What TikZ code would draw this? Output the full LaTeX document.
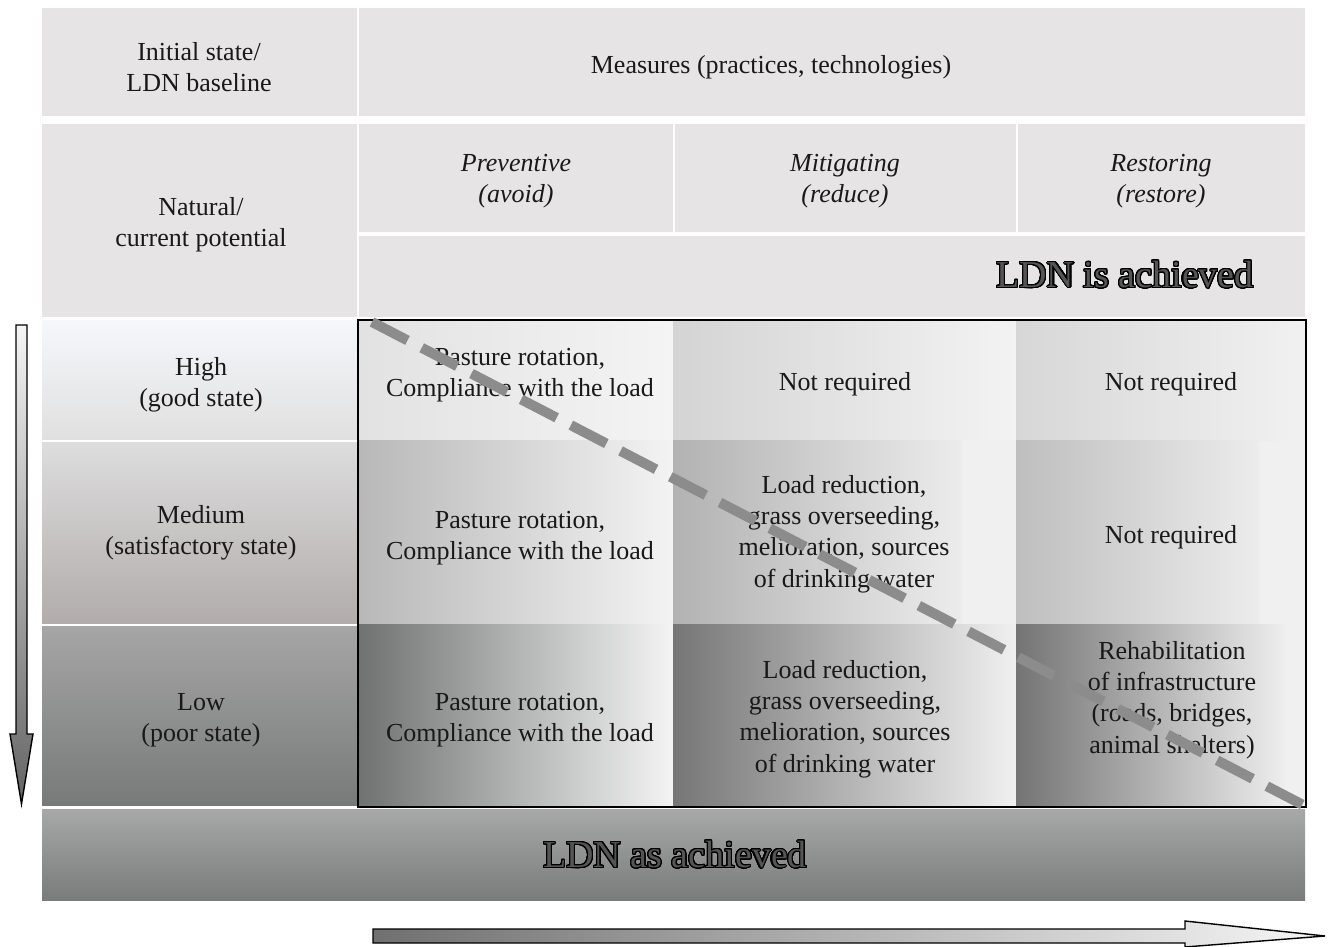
\documentclass[tikz,border=0pt]{standalone}
\usepackage{fontspec}
\setmainfont{Liberation Serif}
\usepackage{contour}
\contourlength{0.55pt}
\contournumber{32}
\definecolor{hdr}{RGB}{230,228,229}
\definecolor{dashgray}{RGB}{140,140,140}
\definecolor{ink}{RGB}{25,25,25}
\definecolor{bigink}{RGB}{85,85,85}
\begin{document}
\begin{tikzpicture}[x=0.5pt,y=0.5pt,
  txt/.style={font=\fontsize{13}{15.7}\selectfont, align=center, text=ink, inner sep=0pt, yshift=-1.5pt},
  hd/.style={font=\fontsize{13}{15.7}\selectfont\itshape, align=center, text=ink, inner sep=0pt, yshift=-1.5pt},
  big/.style={font=\fontsize{19}{22}\selectfont, text=bigink, inner sep=0pt},
  hbox/.style={fill=hdr},
  arrowshape/.style={draw=black, line width=0.7pt, line join=miter}
]
\fill[white] (0,0) rectangle (1328,-947);
\useasboundingbox (0,0) rectangle (1328,-947);

% header cells
\path[hbox] (42,-8) rectangle (357,-116);
\path[hbox] (359,-8) rectangle (1305,-116);
\path[hbox] (42,-124) rectangle (357,-317);
\path[hbox] (359,-124) rectangle (673,-232);
\path[hbox] (675,-124) rectangle (1016,-232);
\path[hbox] (1018,-124) rectangle (1305,-232);
\path[hbox] (359,-236) rectangle (1305,-317);

% left column state cells
\shade[top color={rgb,255:red,246;green,247;blue,251}, bottom color={rgb,255:red,224;green,224;blue,224}] (42,-320) rectangle (357,-439);
\shade[top color={rgb,255:red,221;green,221;blue,221}, bottom color={rgb,255:red,178;green,172;blue,172}] (42,-442) rectangle (357,-623);
\shade[top color={rgb,255:red,166;green,166;blue,166}, bottom color={rgb,255:red,120;green,121;blue,121}] (42,-626) rectangle (357,-805);

% grid base
\fill[black!6] (358,-320) rectangle (1305,-806);
% row 1
\shade[left color={rgb,255:red,226;green,226;blue,226}, right color={rgb,255:red,244;green,244;blue,244}] (358,-320) rectangle (673,-440);
\shade[left color={rgb,255:red,212;green,212;blue,212}, right color={rgb,255:red,243;green,243;blue,243}] (673,-320) rectangle (1016,-440);
\shade[left color={rgb,255:red,215;green,215;blue,215}, right color={rgb,255:red,241;green,241;blue,241}] (1016,-320) rectangle (1305,-440);
% row 2
\shade[left color={rgb,255:red,184;green,184;blue,184}, right color={rgb,255:red,243;green,243;blue,243}] (358,-440) rectangle (673,-624);
\fill[black!6] (673,-440) rectangle (1016,-624);
\shade[left color={rgb,255:red,178;green,178;blue,178}, right color={rgb,255:red,236;green,236;blue,236}] (673,-440) rectangle (962,-624);
\shade[left color={rgb,255:red,190;green,190;blue,190}, right color={rgb,255:red,236;green,236;blue,236}] (1016,-440) rectangle (1259,-624);
% row 3
\shade[left color={rgb,255:red,112;green,114;blue,114}, middle color={rgb,255:red,192;green,192;blue,192}, right color={rgb,255:red,244;green,244;blue,244}] (358,-624) rectangle (673,-806);
\shade[left color={rgb,255:red,118;green,118;blue,118}, middle color={rgb,255:red,190;green,190;blue,190}, right color={rgb,255:red,240;green,240;blue,240}] (673,-624) rectangle (1016,-806);
\shade[left color={rgb,255:red,116;green,116;blue,116}, middle color={rgb,255:red,185;green,185;blue,185}, right color={rgb,255:red,238;green,238;blue,238}] (1016,-624) rectangle (1285,-806);

% grid border
\draw[black, line width=1pt] (358,-320) rectangle (1306,-807);

% bottom bar
\shade[top color={rgb,255:red,168;green,168;blue,168}, bottom color={rgb,255:red,122;green,123;blue,123}] (42,-809) rectangle (1305,-900);

% arrows
\shade[top color={rgb,255:red,244;green,244;blue,244}, bottom color={rgb,255:red,100;green,100;blue,100}, arrowshape]
  (16,-325) -- (27,-325) -- (27,-734) -- (33,-734) -- (21.5,-804) -- (10,-734) -- (16,-734) -- cycle;
\shade[left color={rgb,255:red,112;green,112;blue,112}, right color={rgb,255:red,246;green,246;blue,246}, arrowshape]
  (373,-929) -- (1185,-929) -- (1185,-921) -- (1325,-936) -- (1185,-947) -- (1185,-943) -- (373,-943) -- cycle;

% texts
\node[txt] (initial) at (199,-64) {Initial state/\\LDN baseline};
\node[txt] (measures) at (771,-64) {Measures (practices, technologies)};
\node[txt] (natural) at (201,-222) {Natural/\\current potential};
\node[hd] (prev) at (516,-178) {Preventive\\(avoid)};
\node[hd] (mitig) at (845,-178) {Mitigating\\(reduce)};
\node[hd] (restor) at (1161,-178) {Restoring\\(restore)};
\node[big] (ldnis) at (1125,-275) {\contour{black}{LDN is achieved}};

\node[txt] (high) at (201,-382) {High\\(good state)};
\node[txt] (medium) at (201,-530) {Medium\\(satisfactory state)};
\node[txt] (low) at (201,-717) {Low\\(poor state)};

\node[txt] (c11) at (520,-372) {Pasture rotation,\\Compliance with the load};
\node[txt] (c12) at (845,-381) {Not required};
\node[txt] (c13) at (1171,-381) {Not required};
\node[txt] (c21) at (520,-535) {Pasture rotation,\\Compliance with the load};
\node[txt] (c22) at (844,-531) {Load reduction,\\grass overseeding,\\melioration, sources\\of drinking water};
\node[txt] (c23) at (1171,-534) {Not required};
\node[txt] (c31) at (520,-717) {Pasture rotation,\\Compliance with the load};
\node[txt] (c32) at (845,-716) {Load reduction,\\grass overseeding,\\melioration, sources\\of drinking water};
\node[txt] (c33) at (1172,-697) {Rehabilitation\\of infrastructure\\(roads, bridges,\\animal shelters)};

\node[big] (ldnas) at (675,-855) {\contour{black}{LDN as achieved}};

% dashed diagonal
\coordinate (dstart) at (372,-322);
\coordinate (dend) at (1307,-807);
\draw[dashgray, line width=5pt, dash pattern=on 20pt off 8pt] (dstart) -- (dend);
\end{tikzpicture}
\end{document}
